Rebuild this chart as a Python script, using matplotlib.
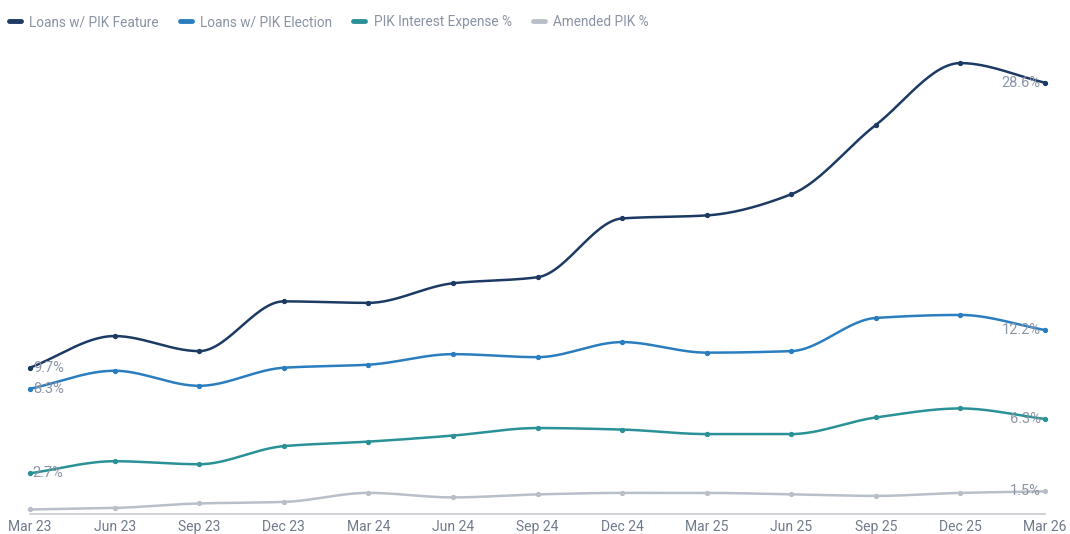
import numpy as np
import matplotlib
matplotlib.use("Agg")
import matplotlib.pyplot as plt

# quarter labels and the four series (percent)
quarters = ["Mar 23", "Jun 23", "Sep 23", "Dec 23", "Mar 24", "Jun 24", "Sep 24",
            "Dec 24", "Mar 25", "Jun 25", "Sep 25", "Dec 25", "Mar 26"]
pik_feature = [9.7, 11.8, 10.8, 14.1, 14.0, 15.3, 15.7, 19.6, 19.8, 21.2, 25.8, 29.9, 28.6]
pik_election = [8.3, 9.5, 8.5, 9.7, 9.9, 10.6, 10.4, 11.4, 10.7, 10.8, 13.0, 13.2, 12.2]
pik_interest = [2.7, 3.5, 3.3, 4.5, 4.8, 5.2, 5.7, 5.6, 5.3, 5.3, 6.4, 7.0, 6.3]
amended_pik = [0.3, 0.4, 0.7, 0.8, 1.4, 1.1, 1.3, 1.4, 1.4, 1.3, 1.2, 1.4, 1.5]

series_names = ["Loans w/ PIK Feature", "Loans w/ PIK Election",
                "PIK Interest Expense %", "Amended PIK %"]
series_values = [pik_feature, pik_election, pik_interest, amended_pik]
show_first_label = [True, True, True, False]
colors = ["#1c3a63", "#2a7dbf", "#2a9196", "#b9bfc8"]
label_color = "#8d96a6"
text_color = "#717a8a"

plt.rcParams["font.family"] = ["Roboto", "DejaVu Sans"]


def monotone_curve(x, y, n=30):
    # Fritsch-Carlson monotone cubic, just for drawing the smooth line
    x = np.asarray(x, float)
    y = np.asarray(y, float)
    h = np.diff(x)
    d = np.diff(y) / h
    m = np.zeros_like(y)
    m[0], m[-1] = d[0], d[-1]
    for i in range(1, len(y) - 1):
        if d[i - 1] * d[i] <= 0:
            m[i] = 0
        else:
            m[i] = 3 * (h[i - 1] + h[i]) / ((2 * h[i] + h[i - 1]) / d[i - 1] + (h[i] + 2 * h[i - 1]) / d[i])
    xs, ys = [], []
    for i in range(len(x) - 1):
        t = np.linspace(0, 1, n, endpoint=False)
        h00 = 2 * t**3 - 3 * t**2 + 1
        h10 = t**3 - 2 * t**2 + t
        h01 = -2 * t**3 + 3 * t**2
        h11 = t**3 - t**2
        xs.append(x[i] + t * h[i])
        ys.append(h00 * y[i] + h10 * h[i] * m[i] + h01 * y[i + 1] + h11 * h[i] * m[i + 1])
    xs.append([x[-1]])
    ys.append([y[-1]])
    return np.concatenate(xs), np.concatenate(ys)


fig = plt.figure(figsize=(10.7, 5.34), dpi=100)
ax = fig.add_axes([30 / 1070, 20 / 534, 1015 / 1070, 467.5 / 534])

x = np.arange(len(quarters))
for name, vals, c, first in zip(series_names, series_values, colors, show_first_label):
    cx, cy = monotone_curve(x, vals)
    ax.plot(cx, cy, color=c, lw=1.8, label=name, clip_on=False, solid_capstyle="round")
    ax.plot(x, vals, "o", color=c, ms=2.8, clip_on=False)
    if first:
        ax.annotate(f"{vals[0]:.1f}%", (x[0], vals[0]), xytext=(2, 0), textcoords="offset points",
                    ha="left", va="center", color=label_color, fontsize=10.5)
    ax.annotate(f"{vals[-1]:.1f}%", (x[-1], vals[-1]), xytext=(-3, 0), textcoords="offset points",
                ha="right", va="center", color=label_color, fontsize=10.5)

ax.set_xlim(0, len(quarters) - 1)
ax.set_ylim(0, 31)
ax.set_xticks(x)
ax.set_xticklabels(quarters, color=text_color, fontsize=10)
ax.tick_params(axis="x", length=0, pad=4)
ax.set_yticks([])
for s in ["top", "right", "left"]:
    ax.spines[s].set_visible(False)
ax.spines["bottom"].set_color("#c7cbd1")
ax.spines["bottom"].set_linewidth(1.2)

leg = fig.legend(loc="upper left", bbox_to_anchor=(-3 / 1070, 1 - 3 / 534), ncol=4, frameon=False,
                 handlelength=0.88, handletextpad=0.6, columnspacing=1.55, fontsize=9.8)
for h in leg.get_lines():
    h.set_linewidth(3.5)
for t in leg.get_texts():
    t.set_color("#8a93a3")

fig.savefig("out.png", dpi=100)
